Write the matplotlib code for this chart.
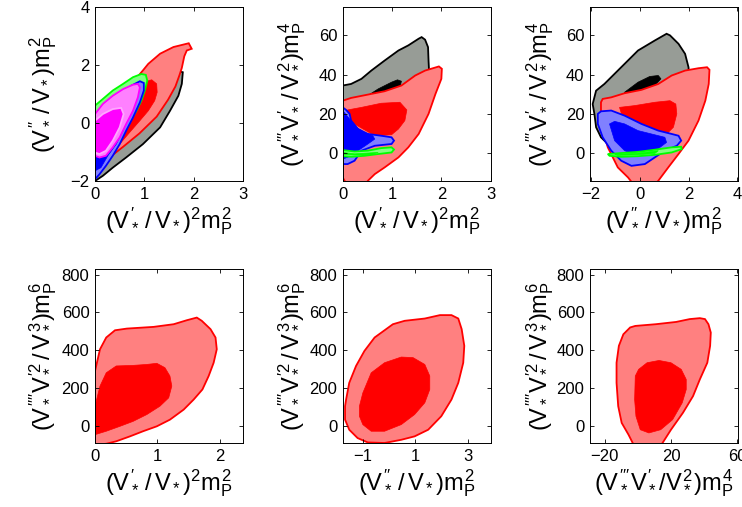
import matplotlib
matplotlib.use('Agg')
import matplotlib.pyplot as plt

plt.rcParams['font.family'] = 'Liberation Sans'
plt.rcParams['mathtext.fontset'] = 'custom'
plt.rcParams['mathtext.rm'] = 'Liberation Sans'
plt.rcParams['mathtext.it'] = 'Liberation Sans'
plt.rcParams['mathtext.bf'] = 'Liberation Sans:bold'

# ---- contour outlines (data units) ----
# panel 1: (V'/V)^2 m^2  vs  (V''/V) m^2
p1_gray = [(0, -2.0), (0.16, -1.82), (0.36, -1.54), (0.63, -1.19), (0.97, -0.73), (1.32, -0.15),
           (1.52, 0.42), (1.69, 0.94), (1.76, 1.35), (1.78, 1.75), (1.66, 1.81), (0.97, 1.23),
           (0.36, 0.08), (0, -0.73)]
p1_red_out = [(0.04, -1.58), (0.30, -1.18), (0.57, -0.82), (0.90, -0.36), (1.25, 0.22), (1.48, 0.80),
              (1.63, 1.26), (1.71, 1.64), (1.76, 1.90), (1.81, 2.30), (1.86, 2.50), (1.96, 2.56),
              (1.90, 2.75), (1.59, 2.62), (1.32, 2.39), (1.08, 2.04), (0.97, 1.81), (0.63, 1.12),
              (0.22, -0.27), (0.02, -1.42)]
p1_red_in = [(0.97, 1.40), (1.15, 1.49), (1.25, 1.35), (1.26, 1.06), (1.21, 0.77), (1.08, 0.42),
             (0.91, 0.08), (0.70, -0.33), (0.50, -0.73), (0.29, -1.02), (0.22, -0.73), (0.63, 0.66)]
p1_green_out = [(0, 0.60), (0.16, 0.83), (0.36, 1.12), (0.57, 1.35), (0.77, 1.58), (0.94, 1.69),
                (1.03, 1.66), (1.06, 1.46), (1.01, 1.12), (0.94, 0.77), (0.84, 0.42), (0.70, 0.02),
                (0.57, -0.38), (0.43, -0.73), (0.33, -1.02), (0.09, -1.07), (0, -0.96)]
p1_blue_out = [(0, 0.19), (0.22, 0.66), (0.50, 1.00), (0.74, 1.29), (0.91, 1.44), (0.99, 1.38),
               (0.99, 1.12), (0.91, 0.71), (0.77, 0.19), (0.63, -0.27), (0.50, -0.73), (0.36, -1.13),
               (0.22, -1.48), (0.09, -1.77), (0, -1.94)]
p1_blue_in = [(0, -0.27), (0.36, 0.19), (0.63, 0.42), (0.70, 0.31), (0.57, -0.27), (0.43, -0.73),
              (0.26, -1.13), (0.12, -1.54), (0, -1.65)]
p1_mag_out = [(0, 0.31), (0.16, 0.66), (0.36, 0.94), (0.57, 1.17), (0.77, 1.32), (0.87, 1.35),
              (0.91, 1.23), (0.87, 0.89), (0.77, 0.42), (0.63, -0.04), (0.50, -0.50), (0.36, -0.84),
              (0.22, -1.13), (0.09, -1.19), (0, -1.13)]
p1_mag_in = [(0, 0.08), (0.16, 0.31), (0.36, 0.48), (0.53, 0.52), (0.58, 0.31), (0.50, -0.15),
             (0.36, -0.61), (0.22, -0.96), (0.09, -1.07), (0, -1.02)]

# panel 2: (V'/V)^2 m^2  vs  (V'''V'/V^2) m^4
p2_gray_out = [(0, 34.5), (0.17, 35.3), (0.38, 37.9), (0.58, 42.1), (0.85, 47.2), (1.13, 52.3),
               (1.33, 54.9), (1.54, 58.3), (1.60, 59.1), (1.67, 57.8), (1.73, 54.0), (1.74, 47.2),
               (1.75, 42.1), (1.33, 35.3), (0.65, 29.4), (0, 25.1)]
p2_gray_in = [(0.51, 29.4), (0.72, 32.8), (0.99, 36.2), (1.11, 37.4), (1.19, 36.7), (1.16, 33.6),
              (0.78, 29.4)]
p2_red_out = [(0, 26.8), (0.17, 28.2), (0.51, 29.9), (0.85, 31.6), (1.19, 34.5), (1.47, 39.6),
              (1.67, 42.1), (1.95, 44.2), (2.01, 43.0), (2.00, 37.9), (1.88, 30.2), (1.74, 20.1),
              (1.54, 9.9), (1.33, 3.1), (1.13, -2.0), (0.85, -7.1), (0.65, -10.5), (0.51, -13.9),
              (0.44, -16.5), (0.10, -16.5), (0, -12.2)]
p2_red_in = [(0.10, 22.1), (0.38, 23.4), (0.78, 25.5), (1.16, 26.0), (1.30, 22.1), (1.26, 16.7),
             (1.13, 12.4), (0.99, 9.5), (0.65, 9.0), (0, 18.4)]
p2_blue_out = [(0, 23.4), (0.07, 22.1), (0.14, 20.1), (0.17, 16.7), (0.31, 12.4), (0.51, 9.9),
               (0.78, 9.0), (0.99, 8.2), (1.04, 6.5), (0.99, 4.8), (0.65, 3.9), (0.38, 1.4),
               (0.24, -3.7), (0.10, -5.4), (0, -5.4)]
p2_blue_in = [(0, 21.8), (0.14, 17.5), (0.27, 13.3), (0.44, 10.7), (0.61, 9.0), (0.65, 7.3),
              (0.51, 4.8), (0.31, 1.4), (0.17, -1.2), (0, -2.9)]
p2_green_out = [(0, 1.7), (0.24, 1.0), (0.51, 1.4), (0.78, 2.7), (0.99, 3.1), (1.04, 2.0),
                (0.99, 0.5), (0.72, -0.3), (0.44, -1.2), (0.17, -1.7), (0, -1.4)]
p2_green_in = [(0, 0.5), (0.24, -0.2), (0.51, 0.2), (0.72, 0.5), (0.55, -0.7), (0.24, -0.8),
               (0, -0.5)]

# panel 3: (V''/V) m^2  vs  (V'''V'/V^2) m^4
p3_gray_out = [(-1.86, 20.1), (-1.93, 25.1), (-1.79, 31.9), (-1.45, 35.3), (-0.76, 43.8),
               (-0.07, 52.3), (0.62, 57.4), (1.10, 60.8), (1.24, 60.0), (1.59, 55.7), (1.86, 50.6),
               (2.00, 43.8), (2.03, 38.7), (1.31, 35.3), (-0.07, 21.8), (-1.31, 4.8), (-1.59, 8.2),
               (-1.79, 13.3)]
p3_gray_in = [(-0.62, 31.1), (-0.07, 36.2), (0.41, 39.1), (0.76, 39.6), (0.87, 37.9), (0.62, 34.5),
              (-0.07, 31.1), (-0.62, 28.5)]
p3_red_out = [(-1.52, 27.7), (-1.17, 28.5), (-0.62, 30.6), (0.07, 32.3), (0.76, 35.3), (1.31, 39.6),
              (1.86, 42.1), (2.41, 43.3), (2.76, 43.8), (2.86, 42.5), (2.83, 35.3), (2.69, 26.8),
              (2.41, 16.7), (2.00, 6.5), (1.59, -0.3), (1.17, -7.1), (0.76, -13.9), (0.55, -16.5),
              (-0.21, -16.5), (-0.48, -12.2), (-0.90, -7.1), (-1.31, 3.1), (-1.52, 11.6),
              (-1.59, 21.8), (-1.59, 26.0)]
p3_red_in = [(-0.83, 23.4), (-0.21, 24.3), (0.62, 26.0), (1.24, 26.8), (1.48, 25.1), (1.52, 20.1),
             (1.38, 13.3), (0.97, 8.2), (0.34, 7.3), (-0.62, 15.0)]
p3_blue_out = [(-1.72, 20.1), (-1.59, 21.4), (-1.17, 21.8), (-0.62, 19.2), (0.07, 15.0), (0.76, 11.6),
               (1.31, 9.9), (1.59, 9.0), (1.70, 6.5), (1.52, 3.9), (1.03, 1.4), (0.62, -2.0),
               (0.21, -5.4), (-0.34, -6.3), (-0.76, -3.7), (-1.17, 1.4), (-1.52, 8.2), (-1.72, 15.0)]
p3_blue_in = [(-1.24, 15.0), (-1.03, 16.3), (-0.62, 15.0), (-0.07, 11.6), (0.48, 9.9), (1.03, 8.2),
              (1.10, 5.6), (0.83, 3.1), (0.41, -0.3), (-0.07, -1.2), (-0.62, 1.4), (-1.03, 6.5)]
p3_green_out = [(-1.31, -0.3), (-0.76, 0.2), (-0.07, 0.8), (0.62, 1.9), (1.31, 3.1), (1.70, 3.4),
                (1.72, 2.2), (1.31, 0.5), (0.62, -0.7), (-0.07, -1.4), (-0.76, -1.7), (-1.24, -1.2)]
p3_green_in = [(-1.03, -0.5), (-0.07, 0.2), (0.76, 1.4), (0.62, 0.0), (-0.07, -0.7), (-0.90, -1.0)]

# panel 4: (V'/V)^2 m^2  vs  (V''''V'^2/V^3) m^6
p4_red_out = [(0, 291), (0.08, 406), (0.18, 468), (0.32, 506), (0.51, 515), (0.94, 524), (1.26, 538),
              (1.47, 559), (1.63, 573), (1.71, 556), (1.85, 512), (1.93, 468), (1.95, 406),
              (1.90, 335), (1.82, 265), (1.72, 194), (1.58, 141), (1.42, 88), (1.20, 35), (0.99, 0),
              (0.77, -26), (0.56, -53), (0.34, -79), (0.18, -92), (0, -97)]
p4_red_in = [(0, 106), (0.08, 212), (0.18, 282), (0.34, 318), (0.61, 321), (0.83, 326), (0.99, 332),
             (1.12, 309), (1.20, 265), (1.23, 212), (1.18, 150), (1.04, 106), (0.83, 62), (0.61, 26),
             (0.40, 0), (0.18, -26), (0, -44)]

# panel 5: (V''/V) m^2  vs  (V''''V'^2/V^3) m^6
p5_red_out = [(-1.69, 106), (-1.65, 141), (-1.53, 229), (-1.27, 318), (-0.95, 397), (-0.56, 468),
              (-0.18, 506), (0.14, 538), (0.59, 556), (1.36, 568), (1.94, 586), (2.38, 586),
              (2.64, 568), (2.77, 512), (2.87, 424), (2.83, 335), (2.64, 229), (2.38, 141),
              (1.99, 53), (1.49, -18), (0.97, -53), (0.46, -71), (-0.18, -88), (-0.82, -85),
              (-1.21, -62), (-1.53, -18), (-1.69, 35)]
p5_red_in = [(-1.14, 106), (-1.01, 176), (-0.69, 282), (-0.18, 335), (0.46, 365), (0.91, 362),
             (1.36, 326), (1.55, 265), (1.55, 194), (1.36, 124), (0.97, 62), (0.46, 9), (-0.18, -26),
             (-0.69, -26), (-1.01, 9), (-1.14, 53)]

# panel 6: (V'''V'/V^2) m^4  vs  (V''''V'^2/V^3) m^6
p6_red_out = [(-5.6, -44), (-9.7, 18), (-11.8, 106), (-12.8, 229), (-12.8, 335), (-11.4, 424),
              (-8.7, 485), (-4.6, 521), (-1.5, 529), (10.8, 538), (23.1, 550), (31.3, 565),
              (37.4, 570), (40.5, 565), (42.6, 538), (44.0, 494), (43.6, 424), (41.9, 335),
              (37.4, 247), (33.3, 159), (27.2, 71), (20.0, -18), (14.9, -88), (12.8, -115),
              (-1.5, -115)]
p6_red_in = [(-1.5, 265), (0.5, 300), (5.6, 335), (12.8, 347), (20.0, 335), (26.2, 300), (29.2, 247),
             (29.2, 194), (26.8, 124), (21.0, 35), (13.8, -18), (6.7, -35), (1.5, -18), (-1.1, 53),
             (-1.9, 141)]

# axis ranges and ticks
xlims = [(0, 3), (0, 3), (-2.04, 4.03), (0, 2.37), (-1.78, 3.88), (-28.8, 60.4)]
ylims = [(-2, 4), (-14, 74.4), (-14, 74.4), (-88, 829), (-88, 829), (-88, 829)]
xticks = [[0, 1, 2, 3], [0, 1, 2, 3], [-2, 0, 2, 4], [0, 1, 2], [-1, 1, 3], [-20, 20, 60]]
yticks = [[-2, 0, 2, 4], [0, 20, 40, 60], [0, 20, 40, 60],
          [0, 200, 400, 600, 800], [0, 200, 400, 600, 800], [0, 200, 400, 600, 800]]

lab_a = r"$(V_*^{\prime}\,/\,V_*)^2m_P^2$"
lab_b = r"$(V_*^{\prime\prime}\,/\,V_*)m_P^2$"
lab_c = r"$(V_*^{\prime\prime\prime}V_*^{\prime}\,/\,V_*^2)m_P^4$"
lab_d = r"$(V_*^{\prime\prime\prime\prime}V_*^{\prime 2}\,/\,V_*^3)m_P^6$"
lab_e = r"$(V_*^{\prime\prime\prime}V_*^{\prime}/V_*^2)m_P^4$"
xlabels = [lab_a, lab_a, lab_b, lab_a, lab_b, lab_e]
ylabels = [lab_b, lab_c, lab_c, lab_d, lab_d, lab_d]

# colours
GRAY, BLACK = '#979c96', '#000000'
LRED, RED = '#ff8080', '#ff0000'
LBLUE, BLUE = '#8080ff', '#0000ff'
LGREEN, GREEN = '#80ff80', '#00ff00'
LMAG, MAG = '#ff80ff', '#ff00ff'

layers = [
    [(p1_gray, GRAY, BLACK), (p1_red_out, LRED, RED), (p1_red_in, RED, None),
     (p1_green_out, LGREEN, GREEN), (p1_blue_out, LBLUE, BLUE), (p1_blue_in, BLUE, None),
     (p1_mag_out, LMAG, MAG), (p1_mag_in, MAG, '#ffa8ff')],
    [(p2_gray_out, GRAY, BLACK), (p2_gray_in, BLACK, None), (p2_red_out, LRED, RED),
     (p2_red_in, RED, None), (p2_blue_out, LBLUE, BLUE), (p2_blue_in, BLUE, None),
     (p2_green_out, LGREEN, GREEN), (p2_green_in, GREEN, None)],
    [(p3_gray_out, GRAY, BLACK), (p3_gray_in, BLACK, None), (p3_red_out, LRED, RED),
     (p3_red_in, RED, None), (p3_blue_out, LBLUE, BLUE), (p3_blue_in, BLUE, None),
     (p3_green_out, LGREEN, GREEN), (p3_green_in, GREEN, None)],
    [(p4_red_out, LRED, RED), (p4_red_in, RED, None)],
    [(p5_red_out, LRED, RED), (p5_red_in, RED, None)],
    [(p6_red_out, LRED, RED), (p6_red_in, RED, None)],
]

fig = plt.figure(figsize=(7.42, 5.07), dpi=100)
W, H = 742.0, 507.0
lefts = [95, 342.7, 590]
tops = [7, 269]
aw, ah = 148, 174
ylab_x = [-0.30, -0.29, -0.285]

for i in range(6):
    r, c = divmod(i, 3)
    ax = fig.add_axes([lefts[c] / W, 1 - (tops[r] + ah) / H, aw / W, ah / H])
    for pts, face, edge in layers[i]:
        xs = [p[0] for p in pts]
        ys = [p[1] for p in pts]
        if edge is None:
            ax.fill(xs, ys, facecolor=face, edgecolor=face, lw=0.5)
        else:
            ax.fill(xs, ys, facecolor=face, edgecolor=edge, lw=1.3)
    ax.set_xlim(*xlims[i])
    ax.set_ylim(*ylims[i])
    ax.set_xticks(xticks[i])
    ax.set_yticks(yticks[i])
    ax.tick_params(direction='in', top=True, right=True, length=3, width=0.6,
                   labelsize=12, pad=4)
    for s in ax.spines.values():
        s.set_linewidth(0.7)
    ax.set_xlabel(xlabels[i], fontsize=17, va='baseline')
    ax.xaxis.set_label_coords(0.5, -0.27)
    ax.set_ylabel(ylabels[i], fontsize=17, va='baseline')
    ax.yaxis.set_label_coords(ylab_x[c], 0.5)

fig.savefig('out.png', dpi=100)
